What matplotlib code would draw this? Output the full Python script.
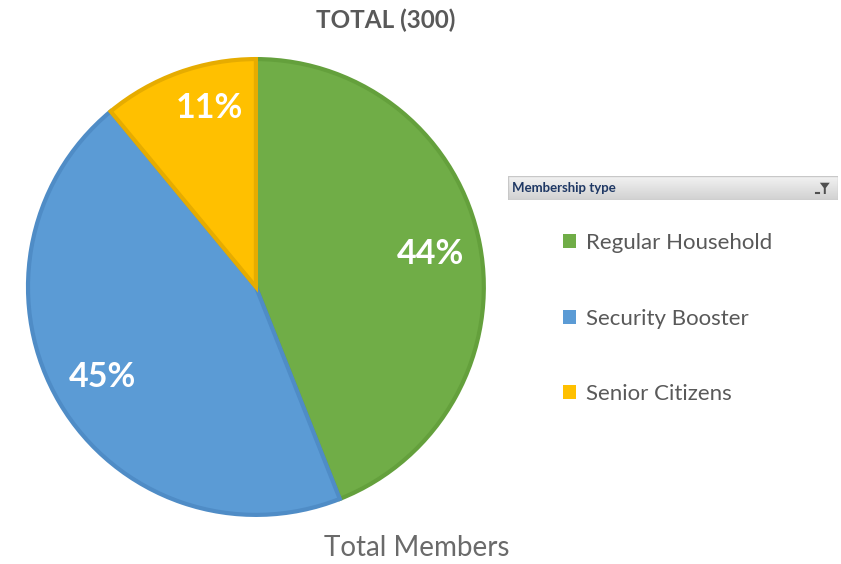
import numpy as np
import matplotlib.pyplot as plt
from matplotlib.patches import Patch, Polygon, Rectangle


membership_types = ["Regular Household", "Security Booster", "Senior Citizens"]
member_counts = [132, 135, 33]
slice_colors = ["#70AD47", "#5B9BD5", "#FFC000"]
edge_colors = ["#64A03C", "#4F8CC6", "#E6AC00"]

chart_title = "TOTAL (300)"
axis_title = "Total Members"
legend_title = "Membership type"

plt.rcParams["font.family"] = ["Lato", "DejaVu Sans"]

TEXT_GRAY = "#595959"


def draw_pie(fig):
    ax = fig.add_axes([0.0333, 0.0869, 0.542, 0.8085])

    wedges, _, autotexts = ax.pie(
        member_counts,
        colors=slice_colors,
        startangle=90,
        counterclock=False,
        autopct="%1.0f%%",
        pctdistance=0.78,
        wedgeprops={"linewidth": 3},
        textprops={"color": "white", "fontsize": 24.5, "fontweight": "bold"},
    )

    for wedge, edge in zip(wedges, edge_colors):
        wedge.set_edgecolor(edge)

    # small nudge so the 11% sits like the original
    x, y = autotexts[2].get_position()
    autotexts[2].set_position((x + 0.06, y + 0.05))

    ax.set_aspect("equal")
    ax.set_xlim(-1.0, 1.0)
    ax.set_ylim(-1.0, 1.0)


def draw_legend(fig):
    # grey header bar of the slicer
    header = fig.add_axes([508 / 841, 1 - 200 / 564, 330 / 841, 24 / 564])
    top = np.array([0.95, 0.95, 0.95])
    bottom = np.array([0.82, 0.82, 0.82])
    steps = np.linspace(0, 1, 40).reshape(-1, 1, 1)
    gradient = top + (bottom - top) * steps
    header.imshow(gradient, aspect="auto", extent=(0, 1, 0, 1))
    header.add_patch(
        Rectangle((0, 0), 1, 1, fill=False, edgecolor="#C8C8C8", linewidth=1)
    )
    header.text(
        0.012,
        0.5,
        legend_title,
        color="#1F3864",
        fontsize=9.5,
        fontweight="bold",
        va="center",
        ha="left",
    )
    header.add_patch(
        Polygon(
            [[0.945, 0.72], [0.975, 0.72], [0.963, 0.5], [0.963, 0.25], [0.957, 0.25], [0.957, 0.5]],
            closed=True,
            facecolor="#505050",
            edgecolor="none",
        )
    )
    header.plot([0.932, 0.942], [0.3, 0.3], color="#505050", linewidth=1.5)
    header.set_xlim(0, 1)
    header.set_ylim(0, 1)
    header.axis("off")

    handles = [
        Patch(facecolor=color, edgecolor="none")
        for color in slice_colors
    ]

    fig.legend(
        handles,
        membership_types,
        loc="upper left",
        bbox_to_anchor=(552 / 841, 1 - 222 / 564),
        frameon=False,
        fontsize=16,
        labelcolor=TEXT_GRAY,
        handlelength=0.6,
        handleheight=0.6,
        handletextpad=0.45,
        labelspacing=2.5,
        borderpad=0,
    )


def main():
    fig = plt.figure(figsize=(8.41, 5.64), dpi=100)

    draw_pie(fig)
    draw_legend(fig)

    fig.text(
        386 / 841,
        1 - 20 / 564,
        chart_title,
        color=TEXT_GRAY,
        fontsize=17.5,
        fontweight="bold",
        ha="center",
        va="center",
    )
    fig.text(
        417 / 841,
        1 - 548 / 564,
        axis_title,
        color="#6A6A6A",
        fontsize=20,
        ha="center",
        va="center",
    )

    fig.savefig("out.png", dpi=100)
    plt.close(fig)


if __name__ == "__main__":
    main()
